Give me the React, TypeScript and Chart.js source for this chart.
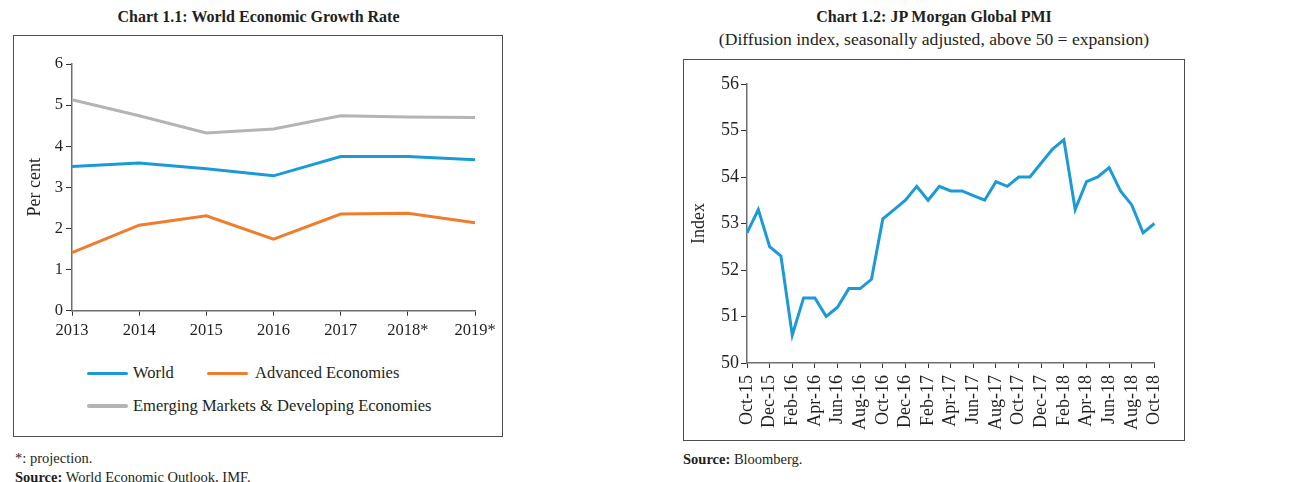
import React, { useEffect, useRef } from 'react';
import { Chart, registerables } from 'chart.js';

Chart.register(...registerables);

// ---------- Chart 1.1 data ----------
const years = ['2013', '2014', '2015', '2016', '2017', '2018*', '2019*'];
const world = [3.51, 3.59, 3.45, 3.28, 3.75, 3.75, 3.67];
const advanced = [1.41, 2.08, 2.31, 1.74, 2.35, 2.37, 2.14];
const emerging = [5.13, 4.74, 4.32, 4.42, 4.74, 4.71, 4.7];
const growthMin = 0;
const growthMax = 6;

// ---------- Chart 1.2 data ----------
const months = [
  'Oct-15', 'Nov-15', 'Dec-15', 'Jan-16', 'Feb-16', 'Mar-16', 'Apr-16', 'May-16', 'Jun-16', 'Jul-16',
  'Aug-16', 'Sep-16', 'Oct-16', 'Nov-16', 'Dec-16', 'Jan-17', 'Feb-17', 'Mar-17', 'Apr-17', 'May-17',
  'Jun-17', 'Jul-17', 'Aug-17', 'Sep-17', 'Oct-17', 'Nov-17', 'Dec-17', 'Jan-18', 'Feb-18', 'Mar-18',
  'Apr-18', 'May-18', 'Jun-18', 'Jul-18', 'Aug-18', 'Sep-18', 'Oct-18',
];
const pmi = [
  52.8, 53.3, 52.5, 52.3, 50.6, 51.4, 51.4, 51.0, 51.2, 51.6,
  51.6, 51.8, 53.1, 53.3, 53.5, 53.8, 53.5, 53.8, 53.7, 53.7,
  53.6, 53.5, 53.9, 53.8, 54.0, 54.0, 54.3, 54.6, 54.8, 53.3,
  53.9, 54.0, 54.2, 53.7, 53.4, 52.8, 53.0,
];
const pmiMin = 50;
const pmiMax = 56;

const BLUE = '#1b9ad7';
const ORANGE = '#f07d2e';
const GRAY = '#b4b4b6';
const TEXT = '#231f20';
const AXIS = '#6d6e71';
const FONT = '"Liberation Serif", "Times New Roman", serif';

function GrowthChart() {
  const ref = useRef<HTMLCanvasElement | null>(null);
  useEffect(() => {
    if (!ref.current) return;
    const chart = new Chart(ref.current, {
      type: 'line',
      data: {
        labels: years,
        datasets: [
          { label: 'Emerging Markets & Developing Economies', data: emerging, borderColor: GRAY, backgroundColor: GRAY },
          { label: 'World', data: world, borderColor: BLUE, backgroundColor: BLUE },
          { label: 'Advanced Economies', data: advanced, borderColor: ORANGE, backgroundColor: ORANGE },
        ],
      },
      options: {
        animation: false,
        responsive: false,
        maintainAspectRatio: false,
        events: [],
        elements: { line: { borderWidth: 3, tension: 0 }, point: { radius: 0 } },
        layout: { padding: { top: 24, right: 28, left: 0, bottom: 0 } },
        plugins: { legend: { display: false }, tooltip: { enabled: false } },
        scales: {
          x: {
            type: 'category',
            offset: false,
            grid: { drawOnChartArea: false, drawTicks: true, tickLength: 5, tickColor: '#333', offset: false },
            border: { display: true, color: AXIS, width: 1.5 },
            ticks: { color: TEXT, font: { family: FONT, size: 16.5 }, padding: 5, maxRotation: 0, autoSkip: false },
            afterFit: (s: any) => { s.height = 39.3; },
          },
          y: {
            min: growthMin,
            max: growthMax,
            grid: { drawOnChartArea: false, drawTicks: true, tickLength: 6, tickColor: '#333' },
            border: { display: true, color: AXIS, width: 1.5 },
            ticks: { stepSize: 1, color: TEXT, font: { family: FONT, size: 16.5 }, padding: 3 },
            title: { display: true, text: 'Per cent', color: TEXT, font: { family: FONT, size: 18 }, padding: { top: 10, bottom: 0 } },
            afterFit: (s: any) => { s.width = 58; },
          },
        },
      },
    } as any);
    return () => chart.destroy();
  }, []);
  return <canvas ref={ref} width={489} height={310} style={{ position: 'absolute', left: 14, top: 40, width: 489, height: 310 }} />;
}

function PmiChart() {
  const ref = useRef<HTMLCanvasElement | null>(null);
  useEffect(() => {
    if (!ref.current) return;
    const chart = new Chart(ref.current, {
      type: 'line',
      data: {
        labels: months,
        datasets: [{ label: 'PMI', data: pmi, borderColor: BLUE, backgroundColor: BLUE }],
      },
      options: {
        animation: false,
        responsive: false,
        maintainAspectRatio: false,
        events: [],
        elements: { line: { borderWidth: 3, tension: 0 }, point: { radius: 0 } },
        layout: { padding: { top: 22, right: 13, left: 0, bottom: 0 } },
        plugins: { legend: { display: false }, tooltip: { enabled: false } },
        scales: {
          x: {
            type: 'category',
            offset: false,
            grid: {
              drawOnChartArea: false,
              drawTicks: true,
              tickLength: 5,
              offset: false,
              tickColor: (ctx: any) => (ctx.index % 2 === 0 ? '#333' : 'rgba(0,0,0,0)'),
            },
            border: { display: true, color: AXIS, width: 1.5 },
            ticks: {
              color: TEXT,
              font: { family: FONT, size: 18 },
              padding: 7,
              autoSkip: false,
              maxRotation: 90,
              minRotation: 90,
              callback: (_v: any, i: number) => (i % 2 === 0 ? months[i] : ''),
            },
            afterFit: (s: any) => { s.height = 75; },
          },
          y: {
            min: pmiMin,
            max: pmiMax,
            grid: { drawOnChartArea: false, drawTicks: true, tickLength: 6, tickColor: '#333' },
            border: { display: true, color: AXIS, width: 1.5 },
            ticks: { stepSize: 1, color: TEXT, font: { family: FONT, size: 18 }, padding: 2 },
            title: { display: true, text: 'Index', color: TEXT, font: { family: FONT, size: 18 }, padding: { top: 2, bottom: 0 } },
            afterFit: (s: any) => { s.width = 61; },
          },
        },
      },
    } as any);
    return () => chart.destroy();
  }, []);
  return <canvas ref={ref} width={497} height={376} style={{ position: 'absolute', left: 686, top: 62, width: 497, height: 376 }} />;
}

const abs = (o: React.CSSProperties): React.CSSProperties => ({ position: 'absolute', ...o });

export default function App() {
  const legendText: React.CSSProperties = { fontFamily: FONT, fontSize: 16.5, color: TEXT, whiteSpace: 'nowrap', lineHeight: '18px' };
  return (
    <div style={{ position: 'absolute', left: 0, top: 0, width: 1291, height: 482, overflow: 'hidden', background: '#fff', fontFamily: FONT, color: TEXT }}>
      {/* Left panel */}
      <div style={abs({ left: 14, top: 7, width: 489, textAlign: 'center', fontWeight: 'bold', fontSize: 16, lineHeight: '20px' })}>
        Chart 1.1: World Economic Growth Rate
      </div>
      <div style={abs({ left: 13, top: 35, width: 488, height: 400, border: '1.5px solid #4d4d4f' })} />
      <GrowthChart />
      <div style={abs({ left: 87, top: 371.5, width: 41, height: 3.5, background: BLUE, borderRadius: 2 })} />
      <div style={abs({ ...legendText, left: 133, top: 364 })}>World</div>
      <div style={abs({ left: 207, top: 371.5, width: 41, height: 3.5, background: ORANGE, borderRadius: 2 })} />
      <div style={abs({ ...legendText, left: 255, top: 364 })}>Advanced Economies</div>
      <div style={abs({ left: 87, top: 404, width: 41, height: 3.5, background: GRAY, borderRadius: 2 })} />
      <div style={abs({ ...legendText, left: 133, top: 396.5 })}>Emerging Markets &amp; Developing Economies</div>
      <div style={abs({ left: 15, top: 450, fontSize: 14.5, lineHeight: '17px', whiteSpace: 'nowrap' })}>*: projection.</div>
      <div style={abs({ left: 15, top: 469, fontSize: 14.5, lineHeight: '17px', whiteSpace: 'nowrap' })}>
        <b>Source:</b> World Economic Outlook, IMF.
      </div>

      {/* Right panel */}
      <div style={abs({ left: 683, top: 7, width: 502, textAlign: 'center', fontWeight: 'bold', fontSize: 16, lineHeight: '20px' })}>
        Chart 1.2: JP Morgan Global PMI
      </div>
      <div style={abs({ left: 683, top: 29, width: 502, textAlign: 'center', fontSize: 17.6, lineHeight: '20px', whiteSpace: 'nowrap' })}>
        (Diffusion index, seasonally adjusted, above 50 = expansion)
      </div>
      <div style={abs({ left: 683, top: 58.5, width: 500, height: 380, border: '1.5px solid #4d4d4f' })} />
      <PmiChart />
      <div style={abs({ left: 683, top: 451, fontSize: 14.5, lineHeight: '17px', whiteSpace: 'nowrap' })}>
        <b>Source:</b> Bloomberg.
      </div>
    </div>
  );
}
